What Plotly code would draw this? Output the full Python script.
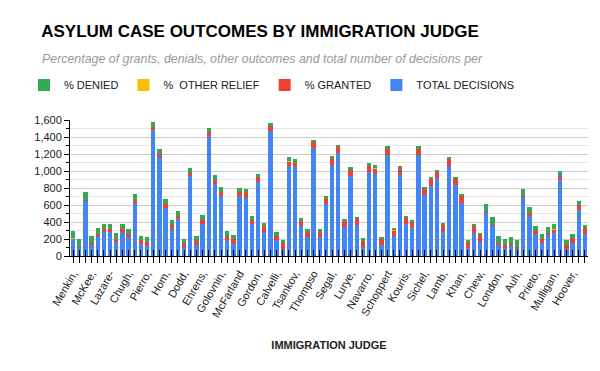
import plotly.graph_objects as go

# Values (84 judges, left to right)
total_decisions = [200, 100, 650, 140, 230, 280, 280, 170, 280, 220,
                   625, 140, 120, 1480, 1160, 570, 320, 430, 105, 940,
                   135, 380, 1410, 848, 708, 194, 146, 705, 688, 372,
                   870, 288, 1470, 186, 88, 1062, 1045, 351, 218, 1270,
                   218, 606, 1072, 1208, 338, 942, 363, 110, 990, 965,
                   126, 1189, 235, 955, 373, 324, 1190, 714, 827, 917,
                   293, 1060, 830, 624, 90, 273, 168, 507, 359, 137,
                   105, 125, 86, 690, 476, 254, 156, 242, 273, 905,
                   86, 156, 546, 261]
pct_granted = [3, 5, 5, 15, 30, 35, 35, 35, 35, 35,
               30, 45, 40, 40, 45, 45, 40, 35, 50, 40,
               45, 45, 50, 50, 50, 45, 55, 50, 50, 50,
               60, 60, 60, 55, 65, 55, 55, 55, 65, 70,
               70, 65, 65, 70, 70, 70, 70, 70, 70, 70,
               75, 70, 70, 72, 72, 75, 75, 80, 80, 80,
               80, 85, 85, 85, 85, 85, 90, 10, 10, 20,
               20, 20, 20, 30, 30, 40, 40, 30, 35, 40,
               45, 55, 50, 65]
pct_other = [4, 0, 0, 0, 0, 0, 0, 0, 0, 0,
             0, 0, 0, 0, 0, 0, 0, 0, 0, 0,
             0, 0, 0, 0, 0, 0, 0, 0, 0, 0,
             0, 0, 0, 0, 0, 5, 0, 0, 0, 0,
             0, 5, 0, 0, 0, 0, 0, 0, 0, 3,
             0, 5, 5, 0, 0, 0, 3, 0, 0, 0,
             0, 0, 0, 0, 0, 0, 0, 0, 0, 0,
             0, 0, 0, 0, 0, 0, 0, 0, 5, 0,
             0, 0, 0, 0]
pct_denied = [93, 95, 95, 85, 70, 65, 65, 65, 65, 65,
              70, 55, 60, 60, 55, 55, 60, 65, 50, 60,
              55, 55, 50, 50, 50, 55, 45, 50, 50, 50,
              40, 40, 40, 45, 35, 40, 45, 45, 35, 30,
              30, 30, 35, 30, 30, 30, 30, 30, 30, 27,
              25, 25, 25, 28, 28, 25, 22, 20, 20, 20,
              20, 15, 15, 15, 15, 15, 10, 90, 90, 80,
              80, 80, 80, 70, 70, 60, 60, 70, 60, 60,
              55, 45, 50, 35]

# Visible tick labels (every third judge)
judge_labels = ["Menkin,", "McKee,", "Lazare-", "Chugh,", "Pierro,", "Hom,",
                "Dodd,", "Ehrens,", "Golovnin,", "McFarland", "Gordon,",
                "Calvelli,", "Tsankov,", "Thompso", "Segal,", "Lurye,",
                "Navarro,", "Schoppert", "Kouris,", "Sichel,", "Lamb,",
                "Khan,", "Chew,", "London,", "Auh,", "Prieto,", "Mulligan,",
                "Hoover,"]

n = len(total_decisions)
xs = list(range(n))
tick_text = [judge_labels[i // 3] if i % 3 == 0 else "" for i in xs]

FONT = "Liberation Sans, Arial, sans-serif"
ML, MR, MT, MB = 62, 20, 112, 123
PW = 600 - ML - MR
PH = 371 - MT - MB

fig = go.Figure()
fig.add_trace(go.Bar(x=xs, y=total_decisions, name="TOTAL DECISIONS",
                     marker=dict(color="#4285F4", line=dict(width=0))))
fig.add_trace(go.Bar(x=xs, y=pct_granted, name="% GRANTED",
                     marker=dict(color="#EA4335", line=dict(width=0))))
fig.add_trace(go.Bar(x=xs, y=pct_other, name="%  OTHER RELIEF",
                     marker=dict(color="#FBBC04", line=dict(width=0))))
fig.add_trace(go.Bar(x=xs, y=pct_denied, name="% DENIED",
                     marker=dict(color="#34A853", line=dict(width=0))))

fig.update_layout(
    width=600, height=371,
    barmode="stack", bargap=0.28,
    paper_bgcolor="white", plot_bgcolor="white",
    margin=dict(l=ML, r=MR, t=MT, b=MB, autoexpand=False),
    font=dict(family=FONT, size=11, color="#222222"),
    title=dict(text="<b>ASYLUM CASE OUTCOMES BY IMMIGRATION JUDGE</b>",
               x=(252 - ML) / PW, xanchor="center", xref="paper",
               y=1 - 23 / 371, yanchor="middle", yref="container",
               font=dict(family=FONT, size=17, color="#000000")),
    legend=dict(orientation="h", traceorder="reversed",
                x=(16 - ML) / PW, xanchor="left", xref="paper",
                y=1 + (MT - 77) / PH, yanchor="middle", yref="paper",
                font=dict(family=FONT, size=11, color="#222222"),
                bgcolor="rgba(0,0,0,0)"),
    annotations=[dict(
        text="<i>Percentage of grants, denials, other outcomes and total number of decisions per</i>",
        x=(254 - ML) / PW, xref="paper", xanchor="center",
        y=1 + (MT - 51) / PH, yref="paper", yanchor="middle",
        showarrow=False, font=dict(family=FONT, size=12.4, color="#999999"))],
    showlegend=True,
)

fig.update_xaxes(
    range=[-0.5, n - 0.5],
    tickmode="array", tickvals=xs, ticktext=tick_text,
    tickangle=-60, tickfont=dict(size=11, color="#222222"),
    ticks="outside", ticklen=6, tickcolor="#000000", tickwidth=1,
    minor=dict(tickmode="array", tickvals=[v + 0.001 for v in xs],
               ticks="inside", ticklen=6, tickcolor="#000000", showgrid=False),
    showline=True, linecolor="#000000", linewidth=1,
    showgrid=False, zeroline=False,
    title=dict(text="<b>IMMIGRATION JUDGE</b>", standoff=22,
               font=dict(family=FONT, size=11, color="#222222")),
)
fig.update_yaxes(
    range=[0, 1600], dtick=200, tickformat=",",
    tickfont=dict(size=11, color="#222222"),
    ticks="outside", ticklen=5, tickcolor="#000000",
    showline=True, linecolor="#000000", linewidth=1,
    showgrid=True, gridcolor="#cccccc", gridwidth=1, zeroline=False,
    minor=dict(dtick=100, showgrid=True, gridcolor="#e6e6e6",
               ticks="outside", ticklen=3, tickcolor="#000000"),
)

fig.write_html("out.html")
